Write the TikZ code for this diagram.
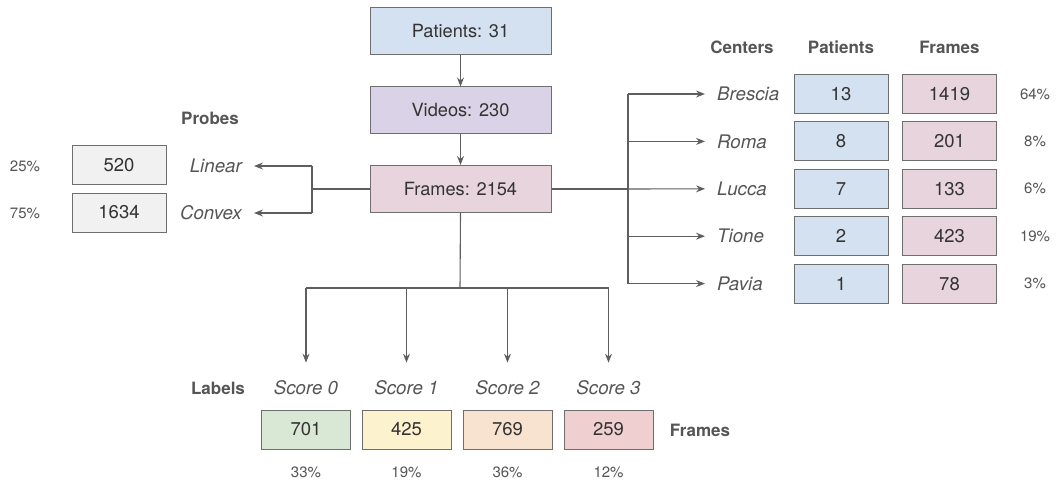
\documentclass[tikz,border=0pt]{standalone}
\usepackage{fontspec}
\setmainfont{TeX Gyre Heros}
\usetikzlibrary{arrows.meta}
\definecolor{boxline}{HTML}{6E6E6E}
\definecolor{wire}{HTML}{5E5E5E}
\definecolor{txt}{HTML}{333333}
\definecolor{soft}{HTML}{555555}
\definecolor{fblue}{HTML}{D4E1F0}
\definecolor{flav}{HTML}{DAD2E6}
\definecolor{fpink}{HTML}{E8D4DC}
\definecolor{fgray}{HTML}{F1F1F1}
\definecolor{fgreen}{HTML}{D9E8D4}
\definecolor{fyellow}{HTML}{FDF2CE}
\definecolor{fpeach}{HTML}{F7E3D0}
\definecolor{fred}{HTML}{EFCFD0}
\tikzset{
  box/.style={draw=boxline, line width=1pt, inner sep=0pt, text=txt,
    font=\fontsize{18.5}{18.5}\selectfont},
  mainbox/.style={box, minimum width=181pt, minimum height=47pt,
    font=\fontsize{18.2}{18.2}\selectfont},
  cell/.style={box, minimum width=94pt, minimum height=39pt},
  scorecell/.style={box, minimum width=89pt, minimum height=39pt},
  tag/.style={inner sep=0pt, text=soft, font=\fontsize{18.7}{18.7}\selectfont\itshape},
  pct/.style={inner sep=0pt, text=soft, font=\fontsize{15}{15}\selectfont},
  head/.style={inner sep=0pt, text=soft, font=\fontsize{17}{17}\selectfont\bfseries},
  wireline/.style={draw=wire, line width=1.1pt},
  arr/.style={wireline, -{Stealth[length=9pt,width=7pt,inset=3pt]}},
}
\begin{document}
\begin{tikzpicture}[x=1pt,y=-1pt]
\useasboundingbox (0,0) rectangle (1056,481);

% main chain
\node[mainbox, fill=fblue] (patients) at (460.5,31.5) {Patients: 31};
\node[mainbox, fill=flav]  (videos)   at (460.5,110.5) {Videos: 230};
\node[mainbox, fill=fpink] (frames)   at (460.5,189) {Frames: 2154};
\draw[arr] (patients) -- (videos);
\draw[arr] (videos) -- (frames);

% probes
\node[head] (probes) at (210,118) {Probes};
\node[cell, fill=fgray] (p520)  at (119,165) {520};
\node[cell, fill=fgray] (p1634) at (119,212.5) {1634};
\node[tag, anchor=east] (linear) at (242,166) {Linear};
\node[tag, anchor=east] (convex) at (242,213) {Convex};
\node[pct] (plin) at (25,166) {25\%};
\node[pct] (pcon) at (25,213) {75\%};
\coordinate (pj) at (312,189);
\draw[wireline] (frames.west) -- (pj);
\draw[wireline] (pj |- linear.east) -- (pj |- convex.east);
\draw[arr, shorten >=12pt] (pj |- linear.east) -- (linear.east);
\draw[arr, shorten >=12pt] (pj |- convex.east) -- (convex.east);

% centers
\node[head] (hcent) at (742,47) {Centers};
\node[head] (hpat)  at (841,47) {Patients};
\node[head] (hfra)  at (949.5,47) {Frames};
\coordinate (cj) at (628,189);
\foreach \nm/\pa/\fr/\pc/\y in {Brescia/13/1419/64/94, Roma/8/201/8/141.4,
    Lucca/7/133/6/188.8, Tione/2/423/19/236.2, Pavia/1/78/3/283.6}{
  \node[tag, anchor=west] (c\nm) at (717,\y) {\nm};
  \node[cell, fill=fblue] (cp\nm) at (841,\y) {\pa};
  \node[cell, fill=fpink] (cf\nm) at (949.5,\y) {\fr};
  \node[pct] (cc\nm) at (1035,\y) {\pc\%};
}
\draw[wireline] (frames.east) -- (cj);
\draw[wireline] (cj |- cBrescia.west) -- (cj |- cPavia.west);
\foreach \nm in {Brescia, Roma, Tione, Pavia}
  \draw[arr, shorten >=12pt] (cj |- c\nm.west) -- (c\nm.west);
\draw[arr, shorten >=12pt] (cj) -- (cLucca.west);

% labels
\node[head] (hlab) at (218,388) {Labels};
\node[head] (hfr2) at (700,430) {Frames};
\foreach \i/\x/\v/\pc/\col in {0/306/701/33/fgreen, 1/406.5/425/19/fyellow,
    2/507.5/769/36/fpeach, 3/608.5/259/12/fred}{
  \node[tag] (s\i) at (\x,388) {Score \i};
  \node[scorecell, fill=\col] (v\i) at (\x,429.5) {\v};
  \node[pct] (q\i) at (\x,472) {\pc\%};
}
\coordinate (bj) at (460,288);
\draw[wireline] (frames.south) -- (bj);
\draw[wireline] (bj -| s0.north) -- (bj -| s3.north);
\foreach \i in {0,...,3}
  \draw[arr, shorten >=18pt] (bj -| s\i.north) -- (s\i.north);
\end{tikzpicture}
\end{document}
